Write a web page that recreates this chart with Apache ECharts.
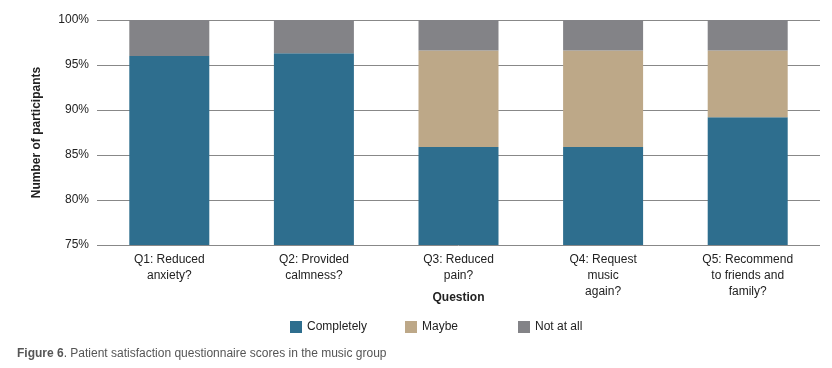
<!DOCTYPE html>
<html>
<head>
<meta charset="utf-8">
<script src="https://cdn.jsdelivr.net/npm/echarts@6/dist/echarts.min.js"></script>
<style>
  html, body { margin: 0; padding: 0; background: #fff; }
  #chart { width: 832px; height: 368px; }
</style>
</head>
<body>
<div id="chart"></div>
<script>
const categories = [
  "Q1: Reduced\nanxiety?",
  "Q2: Provided\ncalmness?",
  "Q3: Reduced\npain?",
  "Q4: Request\nmusic\nagain?",
  "Q5: Recommend\nto friends and\nfamily?"
];
const seriesNames = ["Completely", "Maybe", "Not at all"];
const completely = [96.0, 96.3, 85.9, 85.9, 89.2];
const maybe = [0, 0, 10.7, 10.7, 7.4];
const notAtAll = [4.0, 3.7, 3.4, 3.4, 3.4];
const yTicks = { min: 75, max: 100, interval: 5 };

const font = "Liberation Sans, Arial, sans-serif";
const chart = echarts.init(document.getElementById("chart"));

const bar = (name, data, color) => ({
  name, type: "bar", stack: "total", data, barWidth: 80,
  itemStyle: { color }, emphasis: { disabled: true }
});

// one legend per entry so the spacing matches the original's fixed slots
const legendLeft = [285, 400, 513];
const legends = seriesNames.map((name, i) => ({
  left: legendLeft[i], top: 316, itemWidth: 12, itemHeight: 12, icon: "rect",
  textStyle: { fontFamily: font, fontSize: 12, color: "#222" },
  data: [name]
}));

chart.setOption({
  animation: false,
  textStyle: { fontFamily: font },
  title: {
    left: 12, top: 343,
    text: "{b|Figure 6}. Patient satisfaction questionnaire scores in the music group",
    textStyle: {
      fontFamily: font, fontSize: 12, fontWeight: "normal", color: "#555",
      rich: { b: { fontFamily: font, fontSize: 12, fontWeight: "bold", color: "#555" } }
    }
  },
  legend: legends,
  grid: { left: 97, right: 12, top: 20, bottom: 123 },
  xAxis: {
    type: "category", data: categories,
    name: "Question", nameLocation: "middle", nameGap: 47, nameMoveOverlap: false,
    nameTextStyle: { fontFamily: font, fontSize: 12, fontWeight: "bold", color: "#222" },
    axisLine: { show: false }, axisTick: { show: false },
    axisLabel: { interval: 0, margin: 7, fontSize: 12, lineHeight: 16, color: "#222", fontFamily: font }
  },
  yAxis: {
    type: "value", min: yTicks.min, max: yTicks.max, interval: yTicks.interval,
    name: "Number of participants", nameLocation: "middle", nameGap: 54, nameMoveOverlap: false,
    nameTextStyle: { fontFamily: font, fontSize: 12, fontWeight: "bold", color: "#222" },
    axisLine: { show: false }, axisTick: { show: false },
    axisLabel: { formatter: "{value}%", margin: 8, fontSize: 12, color: "#222", fontFamily: font },
    splitLine: { lineStyle: { color: "#888", width: 1 } }
  },
  series: [
    bar(seriesNames[0], completely, "#2e6e8e"),
    bar(seriesNames[1], maybe, "#bda888"),
    bar(seriesNames[2], notAtAll, "#838387")
  ]
});
</script>
</body>
</html>
